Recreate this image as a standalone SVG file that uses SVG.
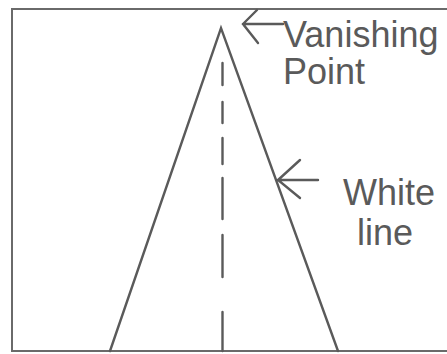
<svg xmlns="http://www.w3.org/2000/svg" width="447" height="354" viewBox="0 0 447 354">
<style>
.ln{stroke:#5a5a5a;stroke-width:2.4;fill:none;stroke-linecap:round;stroke-linejoin:miter}
.bx{stroke:#6a6a6a;stroke-width:2;fill:none}
.t{font-family:"Liberation Sans",Arial,sans-serif;font-size:36px;fill:#5a5a5a}
</style>
<rect x="0" y="0" width="447" height="354" fill="#ffffff"/>
<g id="frame"><path class="bx" d="M448,9 H12 V351 H448"/></g>
<g id="road">
<path class="ln" d="M110,351 L221,28 L338,351"/>
<path class="ln" d="M222.5,63 V85 M222.5,102 V123 M222.5,138 V164 M222.5,178 V219 M222.5,235 V277 M222.5,312 V351" stroke-linecap="butt"/>
</g>
<g id="connectors">
<path class="ln" d="M243,24 H283 M257,10 L243,24 L258,43"/>
<path class="ln" d="M278,180 H318 M300,160 L278,180 L300,198"/>
</g>
<g id="vanishing-label"><text class="t" x="283" y="47">Vanishing</text><text class="t" x="283" y="84">Point</text></g>
<g id="white-line-label"><text class="t" x="343" y="205">White</text><text class="t" x="385" y="245" text-anchor="middle">line</text></g>
</svg>
